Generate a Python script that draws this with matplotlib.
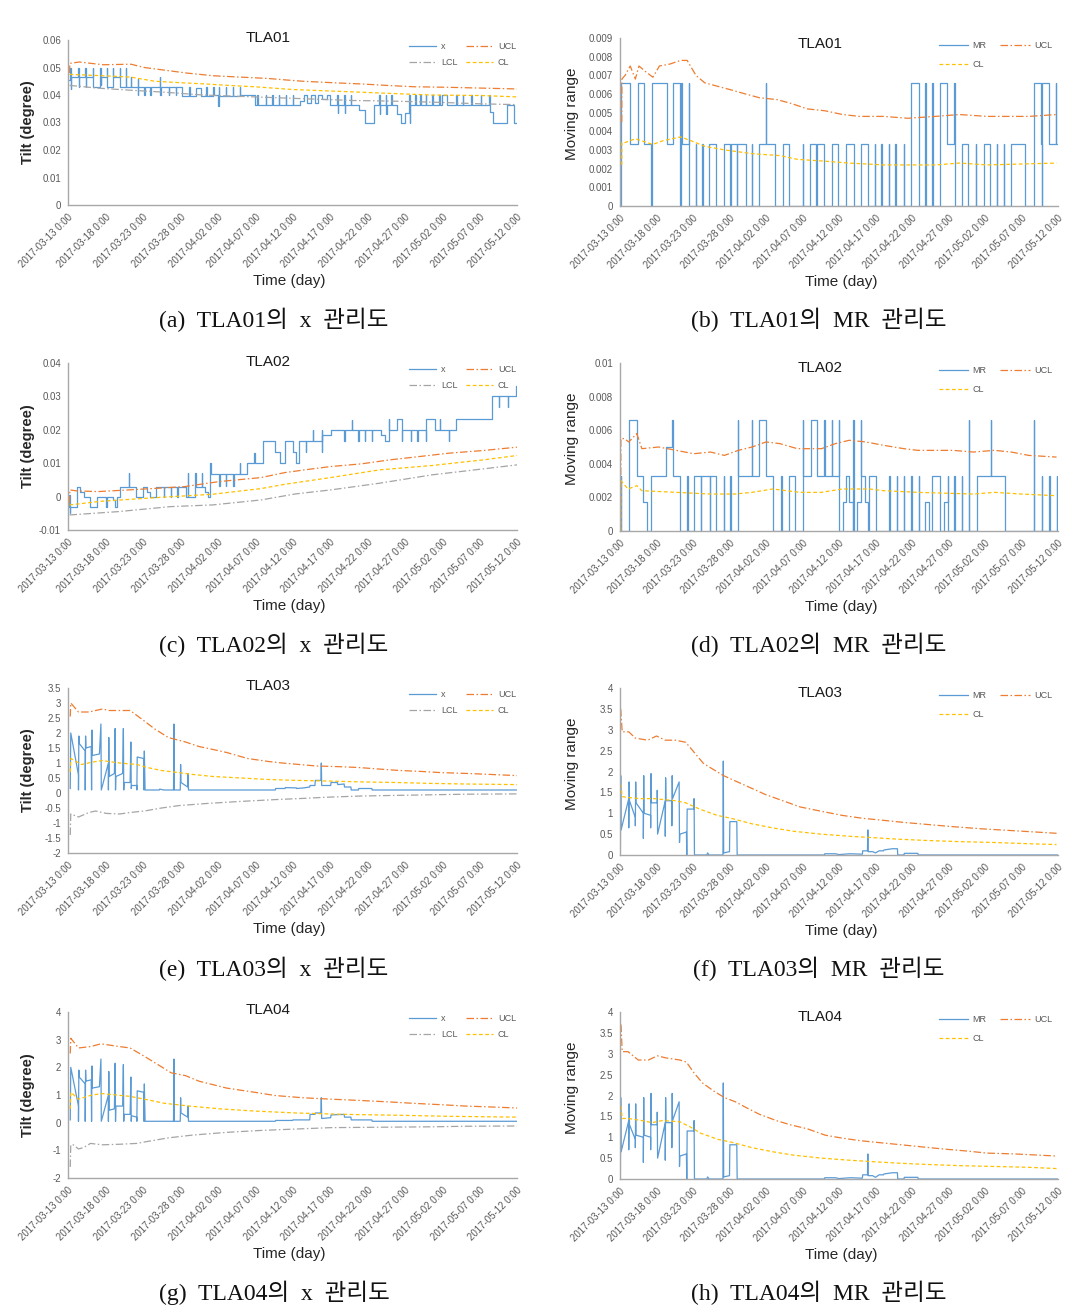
import matplotlib
matplotlib.use('Agg')
import matplotlib.pyplot as plt

plt.rcParams['font.family'] = ['Liberation Sans', 'DejaVu Sans']

W, H = 1082, 1313

tick_days = list(range(0, 61, 5))
tick_labels = ['2017-03-13 0:00', '2017-03-18 0:00', '2017-03-23 0:00', '2017-03-28 0:00',
               '2017-04-02 0:00', '2017-04-07 0:00', '2017-04-12 0:00', '2017-04-17 0:00',
               '2017-04-22 0:00', '2017-04-27 0:00', '2017-05-02 0:00', '2017-05-07 0:00',
               '2017-05-12 0:00']

BLUE, ORANGE, GREY, YELLOW = '#5B9BD5', '#ED7D31', '#A5A5A5', '#FFC000'
DASHDOT = (0, (6, 2, 1.2, 2))
DASH = (0, (3, 2))

# ---- TLA01 x chart (day, value)
tla01_x = [(0.0, 0.0455), (0.3, 0.050), (0.35, 0.042), (0.4, 0.0465), (1.4, 0.050), (1.45, 0.043), (1.5, 0.0465),
           (2.3, 0.050), (2.35, 0.043), (2.4, 0.0465), (3.3, 0.050), (3.35, 0.043), (4.3, 0.050), (4.35, 0.0435),
           (4.4, 0.0465), (5.2, 0.050), (5.25, 0.043), (6.0, 0.050), (6.05, 0.0465), (6.9, 0.050), (6.95, 0.043),
           (7.7, 0.050), (7.75, 0.043), (8.4, 0.0465), (8.45, 0.043), (9.3, 0.046), (9.35, 0.040), (9.4, 0.043),
           (10.2, 0.040), (10.25, 0.043), (11.0, 0.040), (11.05, 0.043), (12.3, 0.0465), (12.35, 0.040), (12.4, 0.043),
           (13.5, 0.040), (13.55, 0.043), (14.4, 0.040), (14.45, 0.043), (15.3, 0.0395), (16.2, 0.043), (16.25, 0.0395),
           (17.1, 0.0425), (17.8, 0.0395), (18.5, 0.043), (18.55, 0.0395), (19.4, 0.043), (19.45, 0.040), (20.1, 0.036),
           (20.15, 0.043), (20.2, 0.0395), (21.1, 0.043), (21.15, 0.0395), (22.0, 0.043), (22.05, 0.0395), (23.0, 0.043),
           (23.05, 0.040), (25.0, 0.0365), (25.3, 0.040), (25.35, 0.0365), (26.4, 0.040), (26.45, 0.0365), (27.3, 0.040),
           (27.35, 0.0365), (28.2, 0.040), (28.25, 0.0365), (29.1, 0.040), (29.15, 0.0365), (30.0, 0.040), (30.05, 0.0365),
           (31.0, 0.038), (31.6, 0.040), (32.0, 0.037), (32.5, 0.040), (33.0, 0.037), (33.4, 0.040), (34.0, 0.0385),
           (34.6, 0.040), (35.0, 0.0365), (36.0, 0.040), (36.05, 0.0335), (36.1, 0.0365), (36.9, 0.040), (36.95, 0.0335),
           (37.0, 0.0365), (37.8, 0.040), (37.85, 0.0365), (38.9, 0.0345), (39.7, 0.030), (40.9, 0.0365), (41.6, 0.040),
           (41.65, 0.033), (41.7, 0.0365), (42.5, 0.040), (42.55, 0.033), (42.6, 0.0365), (43.2, 0.040), (43.25, 0.0365),
           (44.0, 0.033), (44.5, 0.030), (45.0, 0.0335), (45.6, 0.040), (45.65, 0.030), (45.7, 0.0365), (46.4, 0.040),
           (46.45, 0.0365), (47.1, 0.040), (47.15, 0.0365), (47.8, 0.040), (47.85, 0.0365), (48.7, 0.040), (48.75, 0.0365),
           (49.6, 0.040), (49.65, 0.0365), (50.0, 0.040), (50.6, 0.0365), (51.9, 0.040), (51.95, 0.0365), (52.8, 0.040),
           (52.85, 0.0365), (53.9, 0.040), (53.95, 0.0365), (55.2, 0.040), (55.25, 0.0365), (56.3, 0.040), (56.35, 0.034),
           (56.8, 0.030), (58.6, 0.0365), (59.6, 0.030), (60.0, 0.030)]
tla01_x_ucl = [(0.2, 0.048), (0.25, 0.0515), (1.5, 0.052), (4.7, 0.051), (8.4, 0.0512), (10.2, 0.050), (13.0, 0.049),
               (15.8, 0.048), (19.4, 0.047), (23.1, 0.0465), (26.8, 0.046), (29.0, 0.0455), (31.4, 0.045), (35.1, 0.0445),
               (39.3, 0.044), (42.5, 0.0435), (46.2, 0.043), (50.8, 0.0428), (55.4, 0.0425), (60.0, 0.0422)]
tla01_x_cl = [(0.2, 0.0475), (4.7, 0.047), (8.4, 0.0465), (11.6, 0.045), (14.8, 0.0445), (18.5, 0.044), (21.3, 0.0435),
              (24.9, 0.043), (30.0, 0.042), (34.6, 0.0415), (39.3, 0.041), (43.8, 0.0405), (48.5, 0.040), (55.4, 0.0398),
              (60.0, 0.0393)]
tla01_x_lcl = [(0.2, 0.0435), (4.0, 0.0425), (8.0, 0.0418), (13.0, 0.041), (18.0, 0.040), (23.0, 0.0395), (28.0, 0.039),
               (33.0, 0.0385), (38.0, 0.038), (43.0, 0.0378), (50.0, 0.0373), (55.0, 0.0368), (60.0, 0.0365)]

# ---- TLA01 MR chart
tla01_mr = [(0.0, 0.0), (0.2, 0.0066), (1.4, 0.0033), (2.4, 0.0066), (3.3, 0.0033), (4.3, 0.0), (4.4, 0.0066),
            (6.4, 0.0033), (7.3, 0.0066), (8.2, 0.0), (8.3, 0.0066), (8.5, 0.0033), (9.4, 0.0066), (9.45, 0.0),
            (10.4, 0.0033), (10.45, 0.0), (11.3, 0.0033), (11.35, 0.0), (12.2, 0.0033), (13.1, 0.0), (14.2, 0.0033),
            (15.1, 0.0), (15.15, 0.0033), (16.0, 0.0), (16.05, 0.0033), (17.2, 0.0), (18.1, 0.0033), (18.15, 0.0),
            (19.1, 0.0033), (20.0, 0.0066), (20.05, 0.0033), (21.3, 0.0), (22.3, 0.0033), (23.2, 0.0), (25.0, 0.0033),
            (25.05, 0.0), (26.0, 0.0033), (26.9, 0.0), (26.95, 0.0033), (28.0, 0.0), (29.0, 0.0033), (29.9, 0.0),
            (30.9, 0.0033), (32.1, 0.0), (33.0, 0.0033), (34.0, 0.0), (34.9, 0.0033), (34.95, 0.0), (35.8, 0.0033),
            (35.85, 0.0), (36.8, 0.0033), (36.85, 0.0), (37.7, 0.0033), (37.75, 0.0), (38.9, 0.0033), (38.95, 0.0),
            (39.9, 0.0066), (40.9, 0.0), (41.8, 0.0066), (41.85, 0.0), (42.8, 0.0066), (42.85, 0.0), (43.9, 0.0066),
            (44.8, 0.0033), (45.8, 0.0066), (45.85, 0.0), (46.8, 0.0033), (47.7, 0.0), (48.7, 0.0033), (48.75, 0.0),
            (49.8, 0.0033), (50.7, 0.0), (51.6, 0.0033), (51.65, 0.0), (52.6, 0.0033), (52.65, 0.0), (53.6, 0.0033),
            (55.5, 0.0), (56.7, 0.0066), (57.7, 0.0033), (57.75, 0.0), (57.8, 0.0066), (58.7, 0.0033), (59.7, 0.0066),
            (59.75, 0.0033), (60.0, 0.0033)]
tla01_mr_ucl = [(0.24, 0.0045), (0.26, 0.0068), (0.7, 0.007), (1.4, 0.0075), (2.1, 0.0068), (2.6, 0.0075), (3.5, 0.0072),
                (4.5, 0.0069), (5.4, 0.0075), (6.8, 0.0076), (8.3, 0.0078), (9.2, 0.0078), (10.4, 0.007), (11.6, 0.0066),
                (13.5, 0.0064), (15.4, 0.0062), (17.2, 0.006), (19.1, 0.0058), (21.5, 0.0057), (23.4, 0.0055),
                (25.7, 0.0052), (28.1, 0.0051), (30.5, 0.0049), (32.8, 0.0048), (36.1, 0.0048), (39.4, 0.0047),
                (43.2, 0.0048), (46.5, 0.0049), (50.3, 0.0048), (56.0, 0.0048), (59.8, 0.0049)]
tla01_mr_cl = [(0.24, 0.0022), (0.26, 0.0034), (0.7, 0.0034), (2.1, 0.0036), (4.5, 0.0033), (5.9, 0.0035), (8.3, 0.0037),
               (9.7, 0.0035), (11.6, 0.0032), (14.4, 0.003), (18.2, 0.0028), (21.9, 0.0027), (24.3, 0.0025),
               (28.1, 0.0024), (31.4, 0.0023), (36.1, 0.0022), (43.2, 0.0022), (46.5, 0.0023), (50.3, 0.0022),
               (59.8, 0.0023)]

# ---- TLA02 x chart
tla02_x = [(0.0, -0.003), (0.2, 0.0005), (0.25, -0.005), (0.3, -0.003), (1.2, 0.003), (1.6, 0.0015), (2.1, 0.0),
           (3.0, -0.003), (3.9, 0.0), (5.1, -0.003), (5.2, 0.0), (6.0, -0.001), (6.3, -0.003), (6.6, 0.0), (7.0, 0.003),
           (8.1, 0.007), (8.15, 0.003), (9.1, 0.0), (10.0, 0.003), (10.5, 0.0015), (11.0, 0.0), (11.8, 0.003),
           (12.8, 0.0), (12.85, 0.003), (13.7, 0.0), (13.75, 0.003), (14.6, 0.0), (14.65, 0.003), (15.8, 0.0),
           (16.0, 0.007), (16.05, 0.0), (17.0, 0.007), (17.05, 0.003), (17.9, 0.007), (17.95, 0.003), (18.3, 0.0015),
           (18.7, 0.0), (19.0, 0.010), (19.05, 0.0067), (20.2, 0.0033), (20.25, 0.0067), (21.1, 0.0033), (21.15, 0.0067),
           (22.1, 0.0033), (22.15, 0.0067), (23.0, 0.010), (23.05, 0.0067), (23.9, 0.010), (24.9, 0.013), (24.95, 0.010),
           (26.0, 0.0167), (27.6, 0.0133), (28.3, 0.010), (29.0, 0.0167), (30.0, 0.0133), (30.5, 0.010), (30.9, 0.0167),
           (31.8, 0.0133), (31.85, 0.0167), (32.7, 0.020), (32.75, 0.0167), (33.9, 0.020), (33.95, 0.0133),
           (34.0, 0.0183), (35.1, 0.020), (36.9, 0.0167), (36.95, 0.020), (37.9, 0.023), (37.95, 0.020), (38.8, 0.0167),
           (38.85, 0.020), (39.7, 0.0167), (39.75, 0.020), (40.6, 0.0167), (40.65, 0.020), (41.8, 0.0183),
           (42.4, 0.0167), (42.9, 0.0233), (42.95, 0.020), (43.9, 0.0233), (44.6, 0.0167), (44.65, 0.020),
           (45.8, 0.0167), (45.85, 0.020), (46.7, 0.0167), (46.75, 0.020), (47.8, 0.0167), (47.85, 0.0233), (49.0, 0.020),
           (49.7, 0.0233), (49.75, 0.020), (50.9, 0.0167), (50.95, 0.020), (51.8, 0.0233), (56.7, 0.030), (57.6, 0.0267),
           (57.65, 0.030), (58.8, 0.0267), (58.85, 0.030), (59.8, 0.033), (60.0, 0.033)]
tla02_x_ucl = [(0.2, -0.002), (0.25, 0.002), (1.2, 0.0017), (4.0, 0.0015), (8.1, 0.002), (12.0, 0.0025), (15.6, 0.003),
               (20.2, 0.0045), (25.8, 0.0057), (29.0, 0.0072), (32.3, 0.0082), (35.1, 0.009), (39.2, 0.0098),
               (43.0, 0.011), (46.2, 0.0118), (50.9, 0.013), (55.5, 0.0138), (60.0, 0.0148)]
tla02_x_cl = [(0.2, -0.0025), (4.4, -0.0014), (11.8, -0.0003), (19.3, 0.0007), (25.8, 0.0024), (29.0, 0.0037),
              (35.1, 0.0057), (41.6, 0.008), (48.6, 0.0093), (55.5, 0.011), (60.0, 0.0123)]
tla02_x_lcl = [(0.2, -0.0055), (6.7, -0.0045), (13.7, -0.003), (19.3, -0.0025), (25.8, -0.001), (30.4, 0.0008),
               (35.1, 0.002), (41.6, 0.004), (48.6, 0.0065), (55.5, 0.0083), (60.0, 0.0095)]

# ---- TLA02 MR chart
tla02_mr = [(0.0, 0.0), (0.1, 0.0033), (0.15, 0.0), (1.3, 0.0066), (2.3, 0.0033), (3.2, 0.0017), (3.7, 0.0),
            (4.3, 0.0033), (6.3, 0.005), (7.1, 0.0066), (7.2, 0.0033), (8.2, 0.0), (9.2, 0.0033), (9.25, 0.0),
            (10.2, 0.0033), (11.1, 0.0), (11.15, 0.0033), (12.3, 0.0), (12.35, 0.0033), (13.2, 0.0), (14.2, 0.0033),
            (14.25, 0.0), (15.1, 0.0033), (15.15, 0.0), (16.1, 0.0066), (16.15, 0.0033), (18.1, 0.0066),
            (18.15, 0.0033), (19.1, 0.0066), (20.0, 0.0033), (21.0, 0.0), (22.1, 0.0033), (22.15, 0.0), (23.1, 0.0033),
            (24.0, 0.0), (25.0, 0.0066), (25.05, 0.0033), (26.1, 0.0066), (27.0, 0.0033), (28.0, 0.0066),
            (28.05, 0.0033), (29.0, 0.0066), (29.05, 0.0033), (30.0, 0.0066), (30.05, 0.0), (30.5, 0.0017),
            (30.9, 0.0033), (31.4, 0.0017), (31.9, 0.0), (31.95, 0.0066), (32.0, 0.0), (32.5, 0.0017), (33.0, 0.0066),
            (33.05, 0.0033), (33.5, 0.0017), (34.0, 0.0), (34.05, 0.0033), (35.0, 0.0), (36.9, 0.0033), (36.95, 0.0),
            (37.9, 0.0033), (37.95, 0.0), (38.9, 0.0033), (38.95, 0.0), (39.9, 0.0033), (39.95, 0.0), (40.9, 0.0033),
            (40.95, 0.0), (41.8, 0.0017), (42.3, 0.0), (42.7, 0.0033), (43.9, 0.0), (44.4, 0.0017), (44.9, 0.0033),
            (44.95, 0.0), (45.8, 0.0033), (45.85, 0.0), (46.8, 0.0033), (46.85, 0.0), (47.8, 0.0066), (47.85, 0.0),
            (48.9, 0.0033), (50.8, 0.0066), (50.85, 0.0033), (52.8, 0.0), (56.7, 0.0066), (56.75, 0.0), (57.8, 0.0033),
            (57.85, 0.0), (58.8, 0.0033), (58.85, 0.0), (59.8, 0.0033), (59.85, 0.0), (60.0, 0.0)]
tla02_mr_ucl = [(0.1, 0.0), (0.12, 0.0055), (0.6, 0.0055), (1.2, 0.0053), (2.3, 0.0058), (3.0, 0.0049), (5.3, 0.005),
                (7.7, 0.0048), (10.1, 0.0046), (12.4, 0.0047), (14.3, 0.0045), (16.2, 0.0048), (18.1, 0.005),
                (20.0, 0.0053), (21.9, 0.0052), (24.3, 0.0049), (27.6, 0.0049), (29.5, 0.0052), (31.4, 0.0054),
                (33.7, 0.0053), (36.1, 0.0051), (38.9, 0.0049), (40.8, 0.0048), (45.6, 0.0048), (48.4, 0.0047),
                (51.3, 0.0048), (53.6, 0.0047), (56.0, 0.0045), (59.8, 0.0044)]
tla02_mr_cl = [(0.1, 0.0), (0.12, 0.003), (1.1, 0.0025), (2.3, 0.0027), (3.0, 0.0024), (7.7, 0.0023), (12.4, 0.0022),
               (15.7, 0.0022), (18.1, 0.0023), (20.9, 0.0025), (24.7, 0.0023), (27.6, 0.0023), (30.4, 0.0025),
               (34.2, 0.0025), (36.1, 0.0024), (40.8, 0.0023), (48.4, 0.0022), (51.3, 0.0023), (55.0, 0.0022),
               (59.8, 0.0021)]

# ---- TLA03 x chart
tla03_x = [(0.3, 0.15), (0.37, 2.0), (1.4, 0.6), (1.4, 0.1), (1.45, 1.9), (1.5, 1.65), (2.3, 1.4), (2.3, 0.1),
           (2.35, 1.9), (2.4, 1.5), (3.1, 1.55), (3.15, 0.1), (3.2, 2.1), (3.25, 1.25), (4.2, 1.3), (4.4, 2.3),
           (4.45, 0.1), (5.4, 1.0), (5.4, 0.1), (5.45, 1.85), (5.5, 0.55), (6.2, 0.65), (6.3, 2.15), (6.35, 0.1),
           (6.4, 0.55), (7.3, 0.65), (7.4, 2.15), (7.45, 0.1), (7.5, 0.35), (8.3, 0.35), (8.4, 1.7), (8.45, 0.15),
           (8.5, 0.25), (9.2, 0.25), (9.2, 0.1), (9.25, 1.2), (10.1, 1.15), (10.15, 0.1), (10.2, 1.4), (10.3, 0.1),
           (12.2, 0.1), (12.25, 0.13), (12.8, 0.1), (14.1, 0.1), (14.15, 2.3), (14.2, 0.1), (15.0, 0.1), (15.05, 0.95),
           (15.1, 0.35), (16.0, 0.2), (16.05, 0.65), (16.1, 0.1), (27.7, 0.1), (27.75, 0.15), (29.0, 0.15),
           (29.05, 0.18), (30.5, 0.17), (30.55, 0.15), (31.5, 0.17), (32.3, 0.2), (32.35, 0.25), (33.0, 0.25),
           (33.05, 0.42), (33.8, 0.42), (33.85, 1.0), (33.9, 0.25), (35.1, 0.25), (35.15, 0.35), (36.0, 0.35),
           (36.05, 0.28), (36.9, 0.3), (36.95, 0.2), (37.8, 0.2), (37.85, 0.1), (38.8, 0.1), (38.85, 0.15),
           (40.6, 0.15), (40.65, 0.1), (60.0, 0.1)]
tla03_x_ucl = [(0.3, 2.55), (0.37, 3.0), (1.4, 2.7), (2.8, 2.7), (4.6, 2.8), (5.5, 2.75), (8.3, 2.75), (10.2, 2.4),
               (11.5, 2.15), (13.4, 1.85), (15.7, 1.7), (17.5, 1.55), (19.4, 1.45), (21.2, 1.35), (24.0, 1.15),
               (26.8, 1.05), (28.6, 1.0), (30.9, 0.95), (33.2, 0.9), (36.0, 0.88), (38.8, 0.85), (41.5, 0.8),
               (44.3, 0.75), (47.1, 0.72), (49.8, 0.68), (53.5, 0.65), (56.3, 0.62), (60.0, 0.58)]
tla03_x_cl = [(0.3, 0.7), (0.37, 1.15), (1.8, 0.95), (3.7, 1.05), (4.6, 1.08), (6.9, 1.0), (9.2, 0.95), (10.6, 0.85),
              (12.5, 0.75), (14.8, 0.68), (16.6, 0.62), (19.4, 0.55), (23.1, 0.5), (26.8, 0.45), (30.5, 0.42),
              (34.6, 0.4), (39.2, 0.37), (43.8, 0.35), (48.5, 0.32), (53.1, 0.3), (60.0, 0.28)]
tla03_x_lcl = [(0.3, -1.4), (0.37, -0.7), (1.4, -0.8), (2.8, -0.65), (3.7, -0.6), (5.1, -0.68), (6.9, -0.7),
               (8.3, -0.65), (10.2, -0.6), (12.5, -0.5), (14.8, -0.42), (18.5, -0.35), (23.1, -0.28), (27.7, -0.22),
               (31.4, -0.18), (34.6, -0.14), (39.2, -0.1), (43.8, -0.08), (48.5, -0.06), (53.1, -0.04), (60.0, -0.03)]

# ---- TLA03 MR chart
tla03_mr = [(0.05, 0.0), (0.1, 1.9), (0.15, 0.6), (1.2, 1.35), (1.2, 0.65), (1.25, 1.75), (1.3, 1.3), (2.1, 0.9),
            (2.1, 0.7), (2.15, 1.75), (2.2, 1.25), (3.2, 1.0), (3.2, 0.4), (3.25, 1.9), (3.3, 1.0), (4.2, 0.95),
            (4.2, 0.65), (4.25, 1.95), (4.3, 1.25), (5.1, 1.25), (5.1, 1.55), (5.15, 0.5), (6.2, 1.3), (6.2, 0.45),
            (6.25, 1.85), (6.3, 1.3), (7.1, 1.3), (7.1, 0.7), (7.15, 1.9), (7.2, 1.35), (8.1, 1.75), (8.15, 0.3),
            (8.2, 0.5), (9.1, 0.55), (9.15, 0.0), (9.2, 1.1), (10.1, 1.1), (10.15, 1.35), (10.2, 0.0), (11.9, 0.0),
            (12.0, 0.05), (12.2, 0.0), (14.1, 0.0), (14.15, 2.25), (14.2, 0.05), (15.0, 0.08), (15.05, 0.8),
            (16.0, 0.8), (16.05, 0.0), (28.0, 0.0), (28.05, 0.03), (29.5, 0.03), (30.0, 0.01), (31.5, 0.03),
            (33.2, 0.02), (33.25, 0.1), (33.9, 0.1), (33.95, 0.6), (34.0, 0.08), (34.6, 0.08), (35.0, 0.05),
            (35.5, 0.1), (36.1, 0.1), (36.15, 0.12), (37.3, 0.15), (38.0, 0.15), (38.05, 0.0), (38.9, 0.0),
            (38.95, 0.04), (40.8, 0.04), (40.85, 0.0), (60.0, 0.0)]
tla03_mr_ucl = [(0.1, 3.5), (0.3, 2.95), (1.2, 2.95), (2.1, 2.8), (3.8, 2.75), (5.0, 2.85), (6.2, 2.75), (7.6, 2.75),
                (9.0, 2.7), (10.2, 2.45), (11.4, 2.2), (12.3, 2.1), (14.2, 1.9), (16.1, 1.75), (18.0, 1.6),
                (19.9, 1.45), (22.3, 1.3), (24.7, 1.15), (27.5, 1.05), (30.4, 0.95), (33.2, 0.88), (36.1, 0.83),
                (38.9, 0.78), (42.2, 0.73), (45.5, 0.68), (49.3, 0.63), (54.1, 0.58), (59.8, 0.52)]
tla03_mr_cl = [(0.1, 1.7), (0.3, 1.4), (0.9, 1.38), (2.8, 1.35), (4.7, 1.35), (7.6, 1.3), (9.0, 1.25), (10.9, 1.1),
               (13.3, 0.95), (15.2, 0.88), (18.0, 0.75), (20.9, 0.65), (23.7, 0.57), (27.5, 0.5), (31.3, 0.45),
               (34.2, 0.42), (38.0, 0.38), (41.7, 0.35), (46.5, 0.32), (51.2, 0.3), (56.0, 0.27), (59.8, 0.25)]

# ---- TLA04 x chart
tla04_x = [(0.3, 0.1), (0.37, 2.0), (1.4, 0.6), (1.4, 0.05), (1.45, 1.9), (1.5, 1.65), (2.3, 1.4), (2.3, 0.05),
           (2.35, 1.9), (2.4, 1.5), (3.1, 1.55), (3.15, 0.05), (3.2, 2.05), (3.25, 1.25), (4.2, 1.3), (4.4, 2.3),
           (4.45, 0.05), (5.4, 1.0), (5.4, 0.05), (5.45, 1.85), (5.5, 0.45), (6.2, 0.5), (6.3, 2.15), (6.35, 0.05),
           (6.4, 0.6), (7.3, 0.6), (7.4, 2.1), (7.45, 0.05), (7.5, 0.3), (8.3, 0.3), (8.4, 1.65), (8.45, 0.05),
           (8.5, 0.25), (9.2, 0.2), (9.2, 0.05), (9.25, 1.15), (10.1, 1.1), (10.15, 0.05), (10.2, 1.4), (10.3, 0.05),
           (14.1, 0.05), (14.15, 2.3), (14.2, 0.05), (15.0, 0.05), (15.05, 0.9), (15.1, 0.35), (16.0, 0.2),
           (16.05, 0.6), (16.1, 0.05), (27.7, 0.05), (27.75, 0.08), (30.0, 0.08), (30.05, 0.1), (32.3, 0.1),
           (32.35, 0.3), (33.0, 0.3), (33.05, 0.35), (33.8, 0.35), (33.85, 0.9), (33.9, 0.15), (35.1, 0.18),
           (35.15, 0.28), (36.9, 0.3), (36.95, 0.2), (37.8, 0.2), (37.85, 0.1), (38.8, 0.1), (40.6, 0.1),
           (40.65, 0.05), (60.0, 0.05)]
tla04_x_ucl = [(0.3, 2.5), (0.37, 3.05), (1.4, 2.7), (3.0, 2.75), (4.4, 2.85), (6.9, 2.75), (8.3, 2.7), (10.2, 2.4),
               (12.0, 2.1), (13.8, 1.8), (15.7, 1.7), (17.5, 1.5), (21.2, 1.25), (24.9, 1.1), (27.7, 0.98),
               (31.4, 0.9), (35.1, 0.85), (39.2, 0.8), (42.9, 0.75), (46.1, 0.7), (49.8, 0.65), (53.1, 0.6),
               (56.3, 0.57), (60.0, 0.53)]
tla04_x_cl = [(0.3, 0.5), (0.37, 1.1), (1.4, 0.85), (3.2, 1.0), (4.6, 1.05), (8.3, 0.95), (10.2, 0.85), (12.9, 0.7),
              (16.2, 0.6), (20.3, 0.5), (24.9, 0.42), (30.5, 0.35), (36.9, 0.3), (43.8, 0.27), (50.8, 0.23),
              (60.0, 0.2)]
tla04_x_lcl = [(0.3, -1.6), (0.37, -0.8), (0.7, -0.8), (1.4, -0.95), (2.1, -0.9), (3.0, -0.75), (4.6, -0.8),
               (6.9, -0.78), (9.2, -0.75), (10.6, -0.68), (13.4, -0.55), (16.6, -0.45), (21.2, -0.35), (25.8, -0.28),
               (31.4, -0.22), (35.1, -0.18), (39.2, -0.17), (43.8, -0.16), (48.5, -0.15), (53.1, -0.13),
               (60.0, -0.12)]

# ---- TLA04 MR chart
tla04_mr = [(0.05, 0.0), (0.1, 1.95), (0.15, 0.65), (1.2, 1.4), (1.2, 0.7), (1.25, 1.8), (1.3, 1.3), (2.1, 0.95),
            (2.1, 0.75), (2.15, 1.8), (2.2, 1.05), (3.2, 1.0), (3.2, 0.4), (3.25, 1.95), (3.3, 1.05), (4.2, 1.0),
            (4.2, 0.7), (4.25, 2.05), (4.3, 1.3), (5.1, 1.3), (5.1, 1.6), (5.15, 0.5), (6.2, 1.35), (6.2, 0.45),
            (6.25, 1.95), (6.3, 1.35), (7.1, 1.35), (7.1, 0.75), (7.15, 2.05), (7.2, 1.4), (8.1, 1.85), (8.15, 0.3),
            (8.2, 0.55), (9.1, 0.6), (9.15, 0.0), (9.2, 1.15), (10.1, 1.15), (10.15, 1.4), (10.2, 0.0), (11.9, 0.0),
            (12.0, 0.05), (12.2, 0.0), (14.1, 0.0), (14.15, 2.3), (14.2, 0.05), (15.0, 0.08), (15.05, 0.82),
            (16.0, 0.82), (16.05, 0.0), (28.0, 0.0), (28.05, 0.03), (29.5, 0.03), (30.0, 0.01), (31.5, 0.03),
            (33.2, 0.02), (33.25, 0.1), (33.9, 0.1), (33.95, 0.6), (34.0, 0.08), (34.6, 0.08), (35.0, 0.04),
            (35.5, 0.1), (36.1, 0.1), (36.15, 0.12), (37.3, 0.15), (38.0, 0.15), (38.05, 0.0), (38.9, 0.0),
            (38.95, 0.04), (40.8, 0.04), (40.85, 0.0), (60.0, 0.0)]
tla04_mr_ucl = [(0.14, 3.7), (0.3, 3.05), (1.1, 3.05), (2.5, 2.85), (3.9, 2.85), (5.1, 2.95), (6.3, 2.9), (8.2, 2.85),
                (9.1, 2.8), (10.1, 2.55), (11.3, 2.3), (12.9, 2.1), (14.3, 1.95), (15.8, 1.85), (17.4, 1.7),
                (19.1, 1.55), (21.4, 1.4), (23.3, 1.3), (25.7, 1.2), (28.1, 1.05), (30.4, 0.98), (32.8, 0.92),
                (35.6, 0.87), (38.5, 0.82), (41.3, 0.77), (44.2, 0.72), (47.5, 0.67), (50.3, 0.62), (54.1, 0.6),
                (59.8, 0.55)]
tla04_mr_cl = [(0.14, 1.75), (0.3, 1.45), (1.1, 1.45), (3.0, 1.4), (4.4, 1.35), (5.8, 1.4), (8.2, 1.37), (9.6, 1.25),
               (11.0, 1.1), (13.4, 0.95), (15.3, 0.88), (18.1, 0.75), (21.0, 0.65), (23.8, 0.57), (27.6, 0.5),
               (31.4, 0.45), (34.2, 0.42), (38.0, 0.38), (41.8, 0.35), (46.5, 0.32), (51.3, 0.3), (56.0, 0.28),
               (59.8, 0.25)]

fig = plt.figure(figsize=(W / 100, H / 100), dpi=100)


def fx(x, y):
    return x / W, 1 - y / H


def fmt(v):
    s = f'{round(v, 6):g}'
    return '0' if s == '-0' else s


def panel(box, ylim, step, main, ucl, cl, lcl=None, steps=False):
    l, t, r, b = box
    ax = fig.add_axes([l / W, 1 - b / H, (r - l) / W, (b - t) / H])
    mr = lcl is None
    hm, = ax.plot(*zip(*main), color=BLUE, lw=0.9, label='MR' if mr else 'x',
                  drawstyle='steps-post' if steps else 'default')
    hu, = ax.plot(*zip(*ucl), color=ORANGE, lw=0.9, ls=DASHDOT, label='UCL')
    hl = None
    if lcl is not None:
        hl, = ax.plot(*zip(*lcl), color=GREY, lw=0.9, ls=DASHDOT, label='LCL')
    hc, = ax.plot(*zip(*cl), color=YELLOW, lw=0.9, ls=DASH, label='CL')

    ax.set_xlim(0, 60)
    ax.set_ylim(*ylim)
    n = round((ylim[1] - ylim[0]) / step)
    yt = [ylim[0] + i * step for i in range(n + 1)]
    ax.set_yticks(yt)
    ax.set_yticklabels([fmt(v) for v in yt], fontsize=7, color='#595959')
    ax.set_xticks(tick_days)
    ax.set_xticklabels(tick_labels, rotation=45, ha='right', rotation_mode='anchor',
                       fontsize=7, color='#595959')
    ax.tick_params(length=0, pad=5)
    for s in ('top', 'right'):
        ax.spines[s].set_visible(False)
    for s in ('left', 'bottom'):
        ax.spines[s].set_color('#A8A8A8')
        ax.spines[s].set_linewidth(1.0)

    if mr:
        handles = [hm, hc, hu]
        leg = ax.legend(handles=handles, ncol=2, loc='upper right', bbox_to_anchor=fx(r - 6, t + 3),
                        bbox_transform=fig.transFigure, frameon=False, fontsize=6.5,
                        handlelength=3.3, handletextpad=0.4, columnspacing=1.6, labelspacing=1.1,
                        borderpad=0, borderaxespad=0)
    else:
        handles = [hm, hl, hu, hc]
        leg = ax.legend(handles=handles, ncol=2, loc='upper right', bbox_to_anchor=fx(r - 1, t + 2),
                        bbox_transform=fig.transFigure, frameon=False, fontsize=6.5,
                        handlelength=3.0, handletextpad=0.5, columnspacing=1.0, labelspacing=0.75,
                        borderpad=0, borderaxespad=0)
    for txt in leg.get_texts():
        txt.set_color('#595959')
    return ax


left = (68, 517)
right = (620, 1058)
specs = [
    # box, ylim, step, series, steps, title, title pos, caption, caption y
    ((left[0], 40, left[1], 205), (0, 0.06), 0.01, (tla01_x, tla01_x_ucl, tla01_x_cl, tla01_x_lcl), True,
     'TLA01', (268, 38), '(a)  TLA01의  x  관리도', 320),
    ((right[0], 38, right[1], 206), (0, 0.009), 0.001, (tla01_mr, tla01_mr_ucl, tla01_mr_cl, None), True,
     'TLA01', (820, 44), '(b)  TLA01의  MR  관리도', 320),
    ((left[0], 363, left[1], 530), (-0.01, 0.04), 0.01, (tla02_x, tla02_x_ucl, tla02_x_cl, tla02_x_lcl), True,
     'TLA02', (268, 362), '(c)  TLA02의  x  관리도', 645),
    ((right[0], 363, right[1], 531), (0, 0.01), 0.002, (tla02_mr, tla02_mr_ucl, tla02_mr_cl, None), True,
     'TLA02', (820, 368), '(d)  TLA02의  MR  관리도', 645),
    ((left[0], 688, left[1], 853), (-2, 3.5), 0.5, (tla03_x, tla03_x_ucl, tla03_x_cl, tla03_x_lcl), False,
     'TLA03', (268, 686), '(e)  TLA03의  x  관리도', 969),
    ((right[0], 688, right[1], 855), (0, 4), 0.5, (tla03_mr, tla03_mr_ucl, tla03_mr_cl, None), False,
     'TLA03', (820, 693), '(f)  TLA03의  MR  관리도', 969),
    ((left[0], 1012, left[1], 1178), (-2, 4), 1, (tla04_x, tla04_x_ucl, tla04_x_cl, tla04_x_lcl), False,
     'TLA04', (268, 1010), '(g)  TLA04의  x  관리도', 1293),
    ((right[0], 1012, right[1], 1179), (0, 4), 0.5, (tla04_mr, tla04_mr_ucl, tla04_mr_cl, None), False,
     'TLA04', (820, 1017), '(h)  TLA04의  MR  관리도', 1293),
]

for box, ylim, step, (main, ucl, cl, lcl), steps, title, tpos, caption, cap_y in specs:
    panel(box, ylim, step, main, ucl, cl, lcl, steps)
    l, t, r, b = box
    is_left = l < 300
    fig.text(*fx(*tpos), title, fontsize=11, ha='center', va='center', color='#1a1a1a')
    if is_left:
        fig.text(*fx(28, (t + b) / 2), 'Tilt (degree)', rotation=90, fontsize=10.5, fontweight='bold',
                 ha='center', va='center', color='#262626')
        fig.text(*fx(289, b + 76), 'Time (day)', fontsize=11, ha='center', va='center', color='#262626')
        cap_x = 274
    else:
        fig.text(*fx(572, (t + b) / 2 - 8), 'Moving range', rotation=90, fontsize=11,
                 ha='center', va='center', color='#262626')
        fig.text(*fx(841, b + 76), 'Time (day)', fontsize=11, ha='center', va='center', color='#262626')
        cap_x = 819
    fig.text(*fx(cap_x, cap_y), caption, fontsize=17, ha='center', va='center', color='#111111',
             family=['Liberation Serif', 'Noto Sans CJK KR'])

fig.savefig('out.png', dpi=100)
